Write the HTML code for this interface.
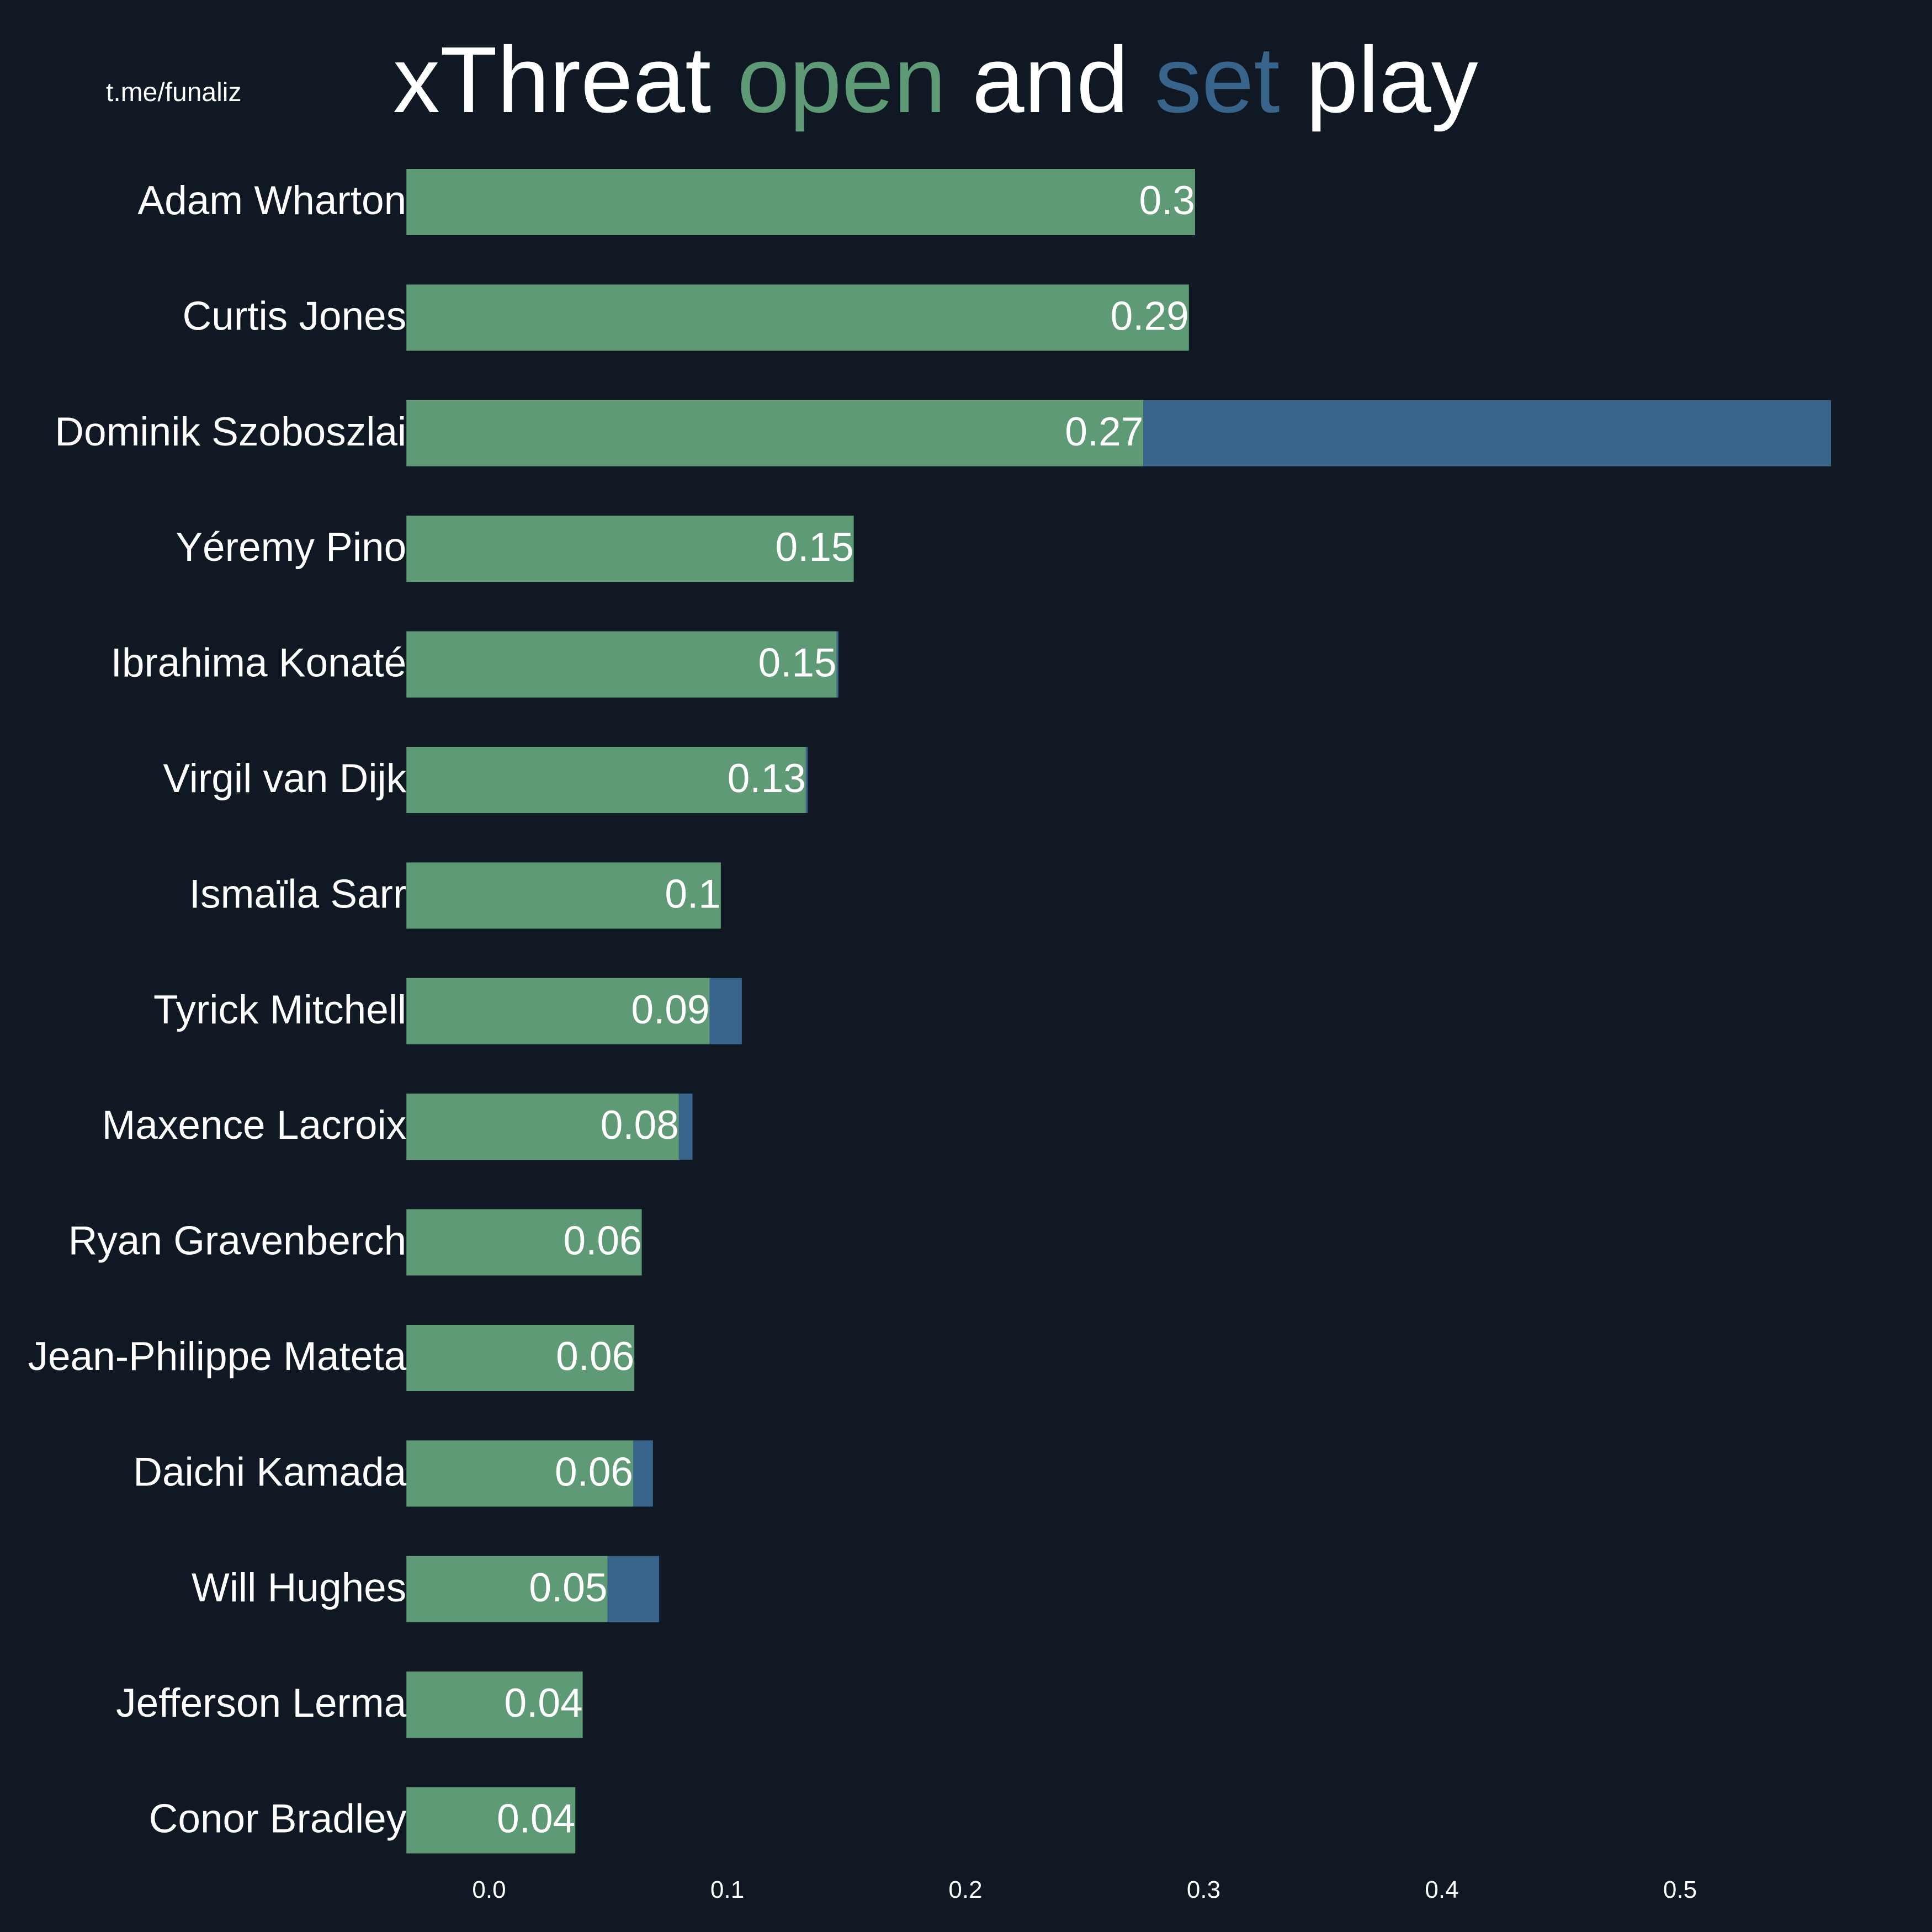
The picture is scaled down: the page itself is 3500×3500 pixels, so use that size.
<!DOCTYPE html>
<html><head><meta charset="utf-8"><style>
html,body{margin:0;padding:0;background:#0f1823;}
svg{display:block;font-family:"Liberation Sans",Arial,sans-serif;}
</style></head><body>
<svg id="chart" width="3500" height="3500" viewBox="0 0 3500 3500">
<rect x="0" y="0" width="3500" height="3500" fill="#0f1823"/>
<text x="192" y="183" font-size="48" fill="#ffffff">t.me/funaliz</text>
<text x="712" y="203" font-size="170" fill="#ffffff">xThreat <tspan fill="#5f9a76">open</tspan> and <tspan fill="#38648c">set</tspan> play</text>
<g id="bars"></g>
<g id="xaxis"></g>
</svg>
<script>
const players = ["Adam Wharton","Curtis Jones","Dominik Szoboszlai","Yéremy Pino","Ibrahima Konaté","Virgil van Dijk","Ismaïla Sarr","Tyrick Mitchell","Maxence Lacroix","Ryan Gravenberch","Jean-Philippe Mateta","Daichi Kamada","Will Hughes","Jefferson Lerma","Conor Bradley"];
const openPlay = [0.2964,0.2938,0.2747,0.1531,0.1459,0.1330,0.0973,0.0926,0.0797,0.0641,0.0610,0.0605,0.0497,0.0393,0.0362];
const setPlay = [0,0,0.2887,0,0.0008,0.0008,0,0.0135,0.0057,0,0,0.0083,0.0217,0,0];
const valueLabels = ["0.3","0.29","0.27","0.15","0.15","0.13","0.1","0.09","0.08","0.06","0.06","0.06","0.05","0.04","0.04"];
const ticks = [0,0.1,0.2,0.3,0.4,0.5];
const tickLabels = ["0.0","0.1","0.2","0.3","0.4","0.5"];
const xMin = -0.0347;
const NS="http://www.w3.org/2000/svg";
function x(v){return 886 + v*4315;}
function yc(i){return 366 + i*209.4;}
const barH=120;
const g=document.getElementById('bars');
function mk(t,a){const e=document.createElementNS(NS,t);for(const k in a)e.setAttribute(k,a[k]);return e;}
players.forEach((p,i)=>{
  const o=mk('rect',{x:x(xMin),y:yc(i)-barH/2,width:x(openPlay[i])-x(xMin),height:barH,fill:'#5f9a76'});
  
  
  g.appendChild(o);
  if(setPlay[i]>0){
    const s=mk('rect',{x:x(openPlay[i]),y:yc(i)-barH/2,width:x(openPlay[i]+setPlay[i])-x(openPlay[i]),height:barH,fill:'#38648c'});
    
    
    g.appendChild(s);
  }
  const n=mk('text',{x:x(xMin),y:yc(i)+22,'font-size':73,fill:'#ffffff','text-anchor':'end'});
  n.textContent=p;
  
  
  g.appendChild(n);
  const v=mk('text',{x:x(openPlay[i]),y:yc(i)+22,'font-size':73,fill:'#ffffff','text-anchor':'end'});
  v.textContent=valueLabels[i];
  
  
  g.appendChild(v);
});
const xa=document.getElementById('xaxis');
ticks.forEach((t,i)=>{
  const e=mk('text',{x:x(t),y:3438,'font-size':44,fill:'#ffffff','text-anchor':'middle'});
  e.textContent=tickLabels[i];
  
  
  xa.appendChild(e);
});
</script>
</body></html>
